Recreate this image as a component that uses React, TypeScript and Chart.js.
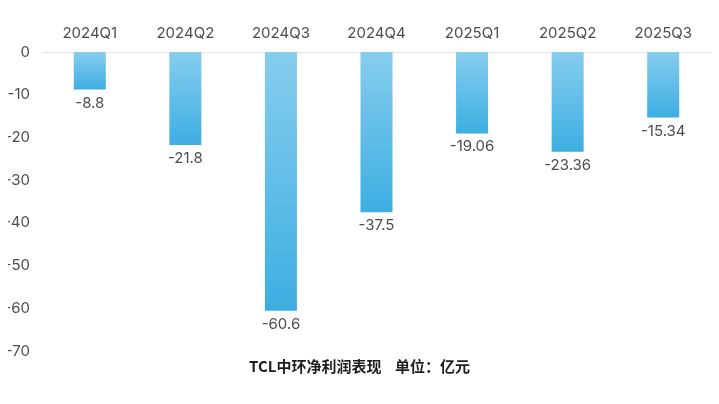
import React, { useEffect, useRef } from "react";
import { Chart, registerables } from "chart.js";

Chart.register(...registerables);

const categories = ["2024Q1", "2024Q2", "2024Q3", "2024Q4", "2025Q1", "2025Q2", "2025Q3"];
const netProfit = [-8.8, -21.8, -60.6, -37.5, -19.06, -23.36, -15.34];
const yTicks = [0, -10, -20, -30, -40, -50, -60, -70];
const titleText = "TCL中环净利润表现    单位：亿元";

const FONT = "Inter, 'Noto Sans', 'Noto Sans CJK SC', sans-serif";
const TEXT = "#4d4d4d";

const dataLabelPlugin = {
  id: "dataLabels",
  afterDatasetsDraw(chart: any) {
    const ctx = chart.ctx;
    const meta = chart.getDatasetMeta(0);
    ctx.save();
    ctx.font = `15px ${FONT}`;
    ctx.fillStyle = TEXT;
    ctx.textAlign = "center";
    ctx.textBaseline = "middle";
    meta.data.forEach((bar: any, i: number) => {
      ctx.fillText(String(netProfit[i]), bar.x, bar.y + 13.5);
    });
    ctx.restore();
  },
};

export default function App() {
  const ref = useRef<HTMLCanvasElement | null>(null);
  useEffect(() => {
    if (!ref.current) return;
    const chart = new Chart(ref.current, {
      type: "bar",
      data: {
        labels: categories,
        datasets: [
          {
            data: netProfit,
            barPercentage: 0.335,
            categoryPercentage: 1,
            backgroundColor: (c: any) => {
              const ch = c.chart;
              const y = ch.scales && ch.scales.y;
              if (!y || c.type !== "data") return "#5bbde6";
              const y0 = y.getPixelForValue(0);
              const y1 = y.getPixelForValue(c.raw);
              if (!isFinite(y0) || !isFinite(y1) || y0 === y1) return "#5bbde6";
              const g = ch.ctx.createLinearGradient(0, y0, 0, y1);
              g.addColorStop(0, "#86cdee");
              g.addColorStop(1, "#3daee2");
              return g;
            },
            borderWidth: 0,
          },
        ],
      },
      options: {
        animation: false,
        responsive: true,
        maintainAspectRatio: false,
        layout: { padding: { left: 8, right: 8, top: 0, bottom: 29 } },
        plugins: {
          legend: { display: false },
          tooltip: { enabled: false },
          title: {
            display: true,
            position: "bottom",
            text: titleText,
            color: "#1e1e1e",
            font: { family: "'Noto Sans CJK SC', sans-serif", size: 15, weight: "bold" },
            padding: { top: 6, bottom: 0 },
          },
        },
        scales: {
          x: {
            position: "top",
            grid: { display: false },
            border: { display: true, color: "#e6e6e6", width: 1 },
            ticks: {
              color: TEXT,
              font: { family: FONT, size: 15 },
              padding: 2,
              maxRotation: 0,
            },
            afterFit: (s: any) => {
              s.height = 52;
            },
          },
          y: {
            min: -70,
            max: 0,
            grid: { display: false, drawTicks: false },
            border: { display: false },
            afterBuildTicks: (s: any) => {
              s.ticks = yTicks.map((v) => ({ value: v }));
            },
            ticks: {
              color: TEXT,
              font: { family: FONT, size: 15 },
              padding: 12,
            },
            afterFit: (s: any) => {
              s.width = 34;
            },
          },
        },
      },
      plugins: [dataLabelPlugin],
    } as any);
    return () => chart.destroy();
  }, []);
  return (
    <div style={{ position: "absolute", left: 0, top: 0, width: 719, height: 404, background: "#ffffff" }}>
      <canvas ref={ref} />
    </div>
  );
}
